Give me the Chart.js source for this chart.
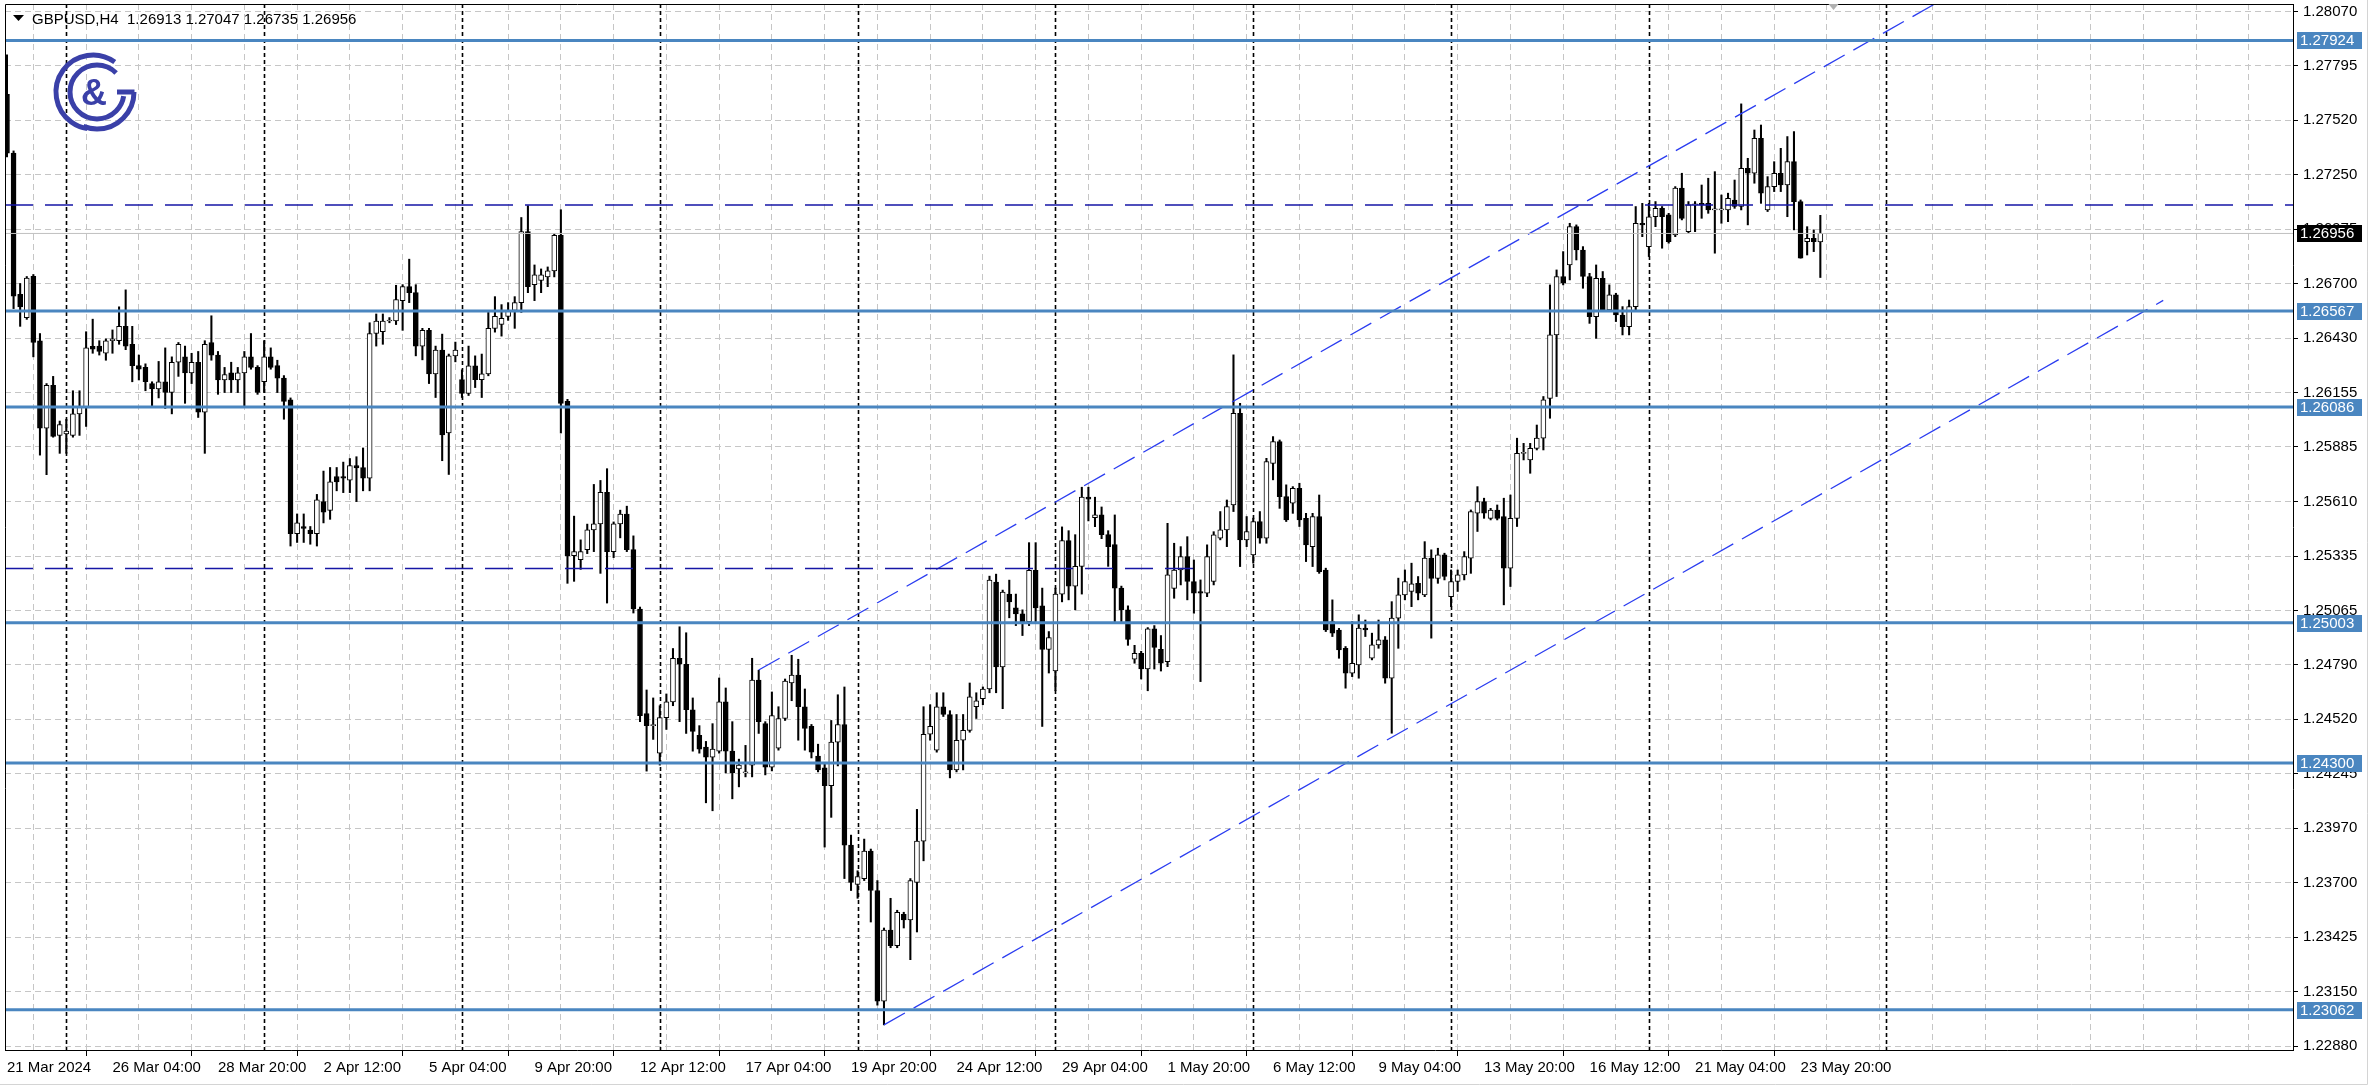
<!DOCTYPE html>
<html>
<head>
<meta charset="utf-8">
<script src="https://cdn.jsdelivr.net/npm/chart.js@4.4.1/dist/chart.umd.min.js"></script>
<style>
  html, body { margin: 0; padding: 0; background: #fff; overflow: hidden; }
  #wrap { width: 2372px; height: 1089px; }
</style>
</head>
<body>
<div id="wrap"><canvas id="chart" width="2372" height="1089"></canvas></div>
<script>
// GBPUSD H4 candles, 21 Mar 2024 12:00 .. 24 May 2024 08:00
const symbol = 'GBPUSD,H4';

// x axis labels, one every 16 bars starting at bar 0
const xLabels = ['21 Mar 2024', '26 Mar 04:00', '28 Mar 20:00', '2 Apr 12:00', '5 Apr 04:00', '9 Apr 20:00',
  '12 Apr 12:00', '17 Apr 04:00', '19 Apr 20:00', '24 Apr 12:00', '29 Apr 04:00', '1 May 20:00',
  '6 May 12:00', '9 May 04:00', '13 May 20:00', '16 May 12:00', '21 May 04:00', '23 May 20:00'];

// price scale as the terminal prints it
const yTickValues = [1.22880, 1.23153, 1.23426, 1.23699, 1.23973, 1.24246, 1.24519, 1.24792, 1.25065, 1.25338,
  1.25612, 1.25885, 1.26158, 1.26431, 1.26704, 1.26977, 1.27251, 1.27524, 1.27797, 1.28070];
const yTickLabels = ['1.22880', '1.23150', '1.23425', '1.23700', '1.23970', '1.24245', '1.24520', '1.24790', '1.25065', '1.25335',
  '1.25610', '1.25885', '1.26155', '1.26430', '1.26700', '1.26975', '1.27250', '1.27520', '1.27795', '1.28070'];

const openP = [
  1.27654,1.27359,1.26651,1.26534,1.26741,1.26418,1.25979,1.26194,1.25943,1.25950,1.25943,1.26051,1.26087,1.26390,1.26391,1.26355,
  1.26418,1.26418,1.26490,1.26400,1.26293,1.26284,1.26203,1.26176,1.26212,1.26158,1.26310,1.26337,1.26257,1.26310,1.26060,1.26409,
  1.26346,1.26221,1.26257,1.26221,1.26257,1.26337,1.26284,1.26212,1.26337,1.26293,1.26230,1.26122,1.25450,1.25486,1.25468,1.25450,
  1.25611,1.25567,1.25737,1.25737,1.25719,1.25791,1.25782,1.25728,1.26454,1.26463,1.26517,1.26517,1.26619,1.26689,1.26659,1.26391,
  1.26470,1.26252,1.26371,1.25955,1.26342,1.26223,1.26153,1.26292,1.26223,1.26252,1.26480,1.26500,1.26540,1.26570,1.26609,1.26966,
  1.26699,1.26720,1.26738,1.26768,1.26946,1.26114,1.25340,1.25320,1.25370,1.25469,1.25499,1.25657,1.25360,1.25499,1.25548,1.25370,
  1.25072,1.24547,1.24487,1.24349,1.24527,1.24606,1.24825,1.24795,1.24567,1.24438,1.24379,1.24329,1.24359,1.24606,1.24359,1.24270,
  1.24250,1.24289,1.24716,1.24497,1.24279,1.24374,1.24523,1.24701,1.24741,1.24582,1.24483,1.24334,1.24275,1.24186,1.24404,1.24493,
  1.23888,1.23690,1.23720,1.23858,1.23660,1.23105,1.23462,1.23383,1.23541,1.23512,1.23700,1.23908,1.24444,1.24364,1.24582,1.24543,
  1.24265,1.24414,1.24463,1.24582,1.24622,1.24671,1.25207,1.24781,1.25147,1.25078,1.25048,1.25009,1.25266,1.25088,1.24870,1.24761,
  1.25147,1.25415,1.25187,1.25286,1.25633,1.25530,1.25544,1.25445,1.25395,1.25177,1.25068,1.24820,1.24850,1.24771,1.24973,1.24870,
  1.24808,1.25176,1.25268,1.25335,1.25210,1.25160,1.25151,1.25210,1.25427,1.25469,1.25594,1.26054,1.25419,1.25344,1.25511,1.25427,
  1.25803,1.25912,1.25636,1.25603,1.25678,1.25527,1.25385,1.25536,1.25268,1.25009,1.24967,1.24875,1.24750,1.24792,1.24976,1.24825,
  1.24892,1.24917,1.24725,1.25026,1.25143,1.25160,1.25201,1.25143,1.25327,1.25226,1.25344,1.25134,1.25210,1.25243,1.25327,1.25553,
  1.25611,1.25527,1.25569,1.25536,1.25277,1.25527,1.25853,1.25820,1.25878,1.25929,1.26129,1.26447,1.26740,1.26798,1.26990,1.26873,
  1.26740,1.26539,1.26731,1.26572,1.26648,1.26547,1.26489,1.26589,1.27007,1.26890,1.27040,1.27082,1.27049,1.26949,1.27183,1.26965,
  1.27099,1.27107,1.27107,1.27074,1.27074,1.27074,1.27124,1.27091,1.27283,1.27258,1.27433,1.27074,1.27191,1.27258,1.27199,1.27316,
  1.27116,1.26915,1.26932,1.26913
];
const highP = [
  1.27852,1.27370,1.26705,1.26740,1.26750,1.26454,1.26203,1.26239,1.26015,1.26024,1.26167,1.26167,1.26463,1.26526,1.26418,1.26427,
  1.26472,1.26588,1.26673,1.26490,1.26346,1.26302,1.26212,1.26314,1.26382,1.26337,1.26409,1.26391,1.26355,1.26364,1.26418,1.26543,
  1.26364,1.26284,1.26310,1.26284,1.26364,1.26454,1.26293,1.26418,1.26382,1.26320,1.26243,1.26131,1.25549,1.25549,1.25486,1.25647,
  1.25764,1.25782,1.25782,1.25809,1.25827,1.25836,1.25880,1.26508,1.26552,1.26552,1.26534,1.26696,1.26699,1.26827,1.26699,1.26480,
  1.26480,1.26391,1.26451,1.26351,1.26411,1.26272,1.26391,1.26342,1.26351,1.26560,1.26639,1.26599,1.26609,1.26639,1.27036,1.27095,
  1.26798,1.26778,1.26788,1.26956,1.27075,1.26124,1.25538,1.25419,1.25498,1.25697,1.25717,1.25776,1.25509,1.25568,1.25588,1.25439,
  1.25082,1.24666,1.24626,1.24587,1.24646,1.24874,1.24983,1.24953,1.24626,1.24487,1.24408,1.24497,1.24726,1.24676,1.24507,1.24319,
  1.24388,1.24825,1.24765,1.24507,1.24656,1.24582,1.24721,1.24840,1.24820,1.24671,1.24493,1.24394,1.24295,1.24513,1.24642,1.24681,
  1.23938,1.23759,1.23918,1.23868,1.23710,1.23472,1.23621,1.23561,1.23551,1.23720,1.24067,1.24582,1.24592,1.24652,1.24652,1.24562,
  1.24543,1.24543,1.24701,1.24652,1.24681,1.25237,1.25247,1.25167,1.25217,1.25147,1.25068,1.25405,1.25405,1.25177,1.24959,1.25177,
  1.25484,1.25465,1.25445,1.25683,1.25683,1.25633,1.25584,1.25465,1.25544,1.25187,1.25088,1.24890,1.24860,1.24979,1.24989,1.24939,
  1.25502,1.25402,1.25385,1.25435,1.25318,1.25218,1.25394,1.25460,1.25561,1.25619,1.26347,1.26104,1.25536,1.25528,1.25561,1.25828,
  1.25937,1.25920,1.25695,1.25686,1.25703,1.25552,1.25552,1.25644,1.25277,1.25118,1.24975,1.24884,1.25009,1.25043,1.25017,1.24951,
  1.25017,1.24934,1.25109,1.25227,1.25268,1.25302,1.25235,1.25410,1.25369,1.25377,1.25352,1.25268,1.25268,1.25360,1.25569,1.25686,
  1.25628,1.25577,1.25594,1.25628,1.25644,1.25929,1.25903,1.25903,1.25995,1.26138,1.26698,1.26773,1.26865,1.27007,1.26999,1.26890,
  1.26756,1.26798,1.26765,1.26698,1.26656,1.26589,1.26622,1.27091,1.27107,1.27107,1.27116,1.27091,1.27057,1.27191,1.27258,1.27116,
  1.27116,1.27199,1.27233,1.27266,1.27149,1.27158,1.27224,1.27606,1.27333,1.27475,1.27500,1.27241,1.27316,1.27383,1.27442,1.27467,
  1.27124,1.26990,1.26974,1.27047
];
const lowP = [
  1.27340,1.26579,1.26490,1.26525,1.26337,1.25844,1.25746,1.25934,1.25853,1.25853,1.25934,1.25943,1.25988,1.26355,1.26346,1.26320,
  1.26355,1.26400,1.26373,1.26212,1.26221,1.26167,1.26087,1.26131,1.26078,1.26051,1.26239,1.26104,1.26203,1.26033,1.25853,1.26320,
  1.26149,1.26158,1.26158,1.26158,1.26087,1.26275,1.26149,1.26158,1.26275,1.26158,1.26024,1.25388,1.25406,1.25406,1.25397,1.25388,
  1.25504,1.25522,1.25665,1.25656,1.25656,1.25611,1.25665,1.25665,1.26391,1.26400,1.26508,1.26499,1.26470,1.26609,1.26342,1.26322,
  1.26203,1.26133,1.25816,1.25747,1.26312,1.26133,1.26143,1.26183,1.26133,1.26242,1.26461,1.26441,1.26520,1.26480,1.26560,1.26659,
  1.26619,1.26659,1.26689,1.26738,1.25955,1.25201,1.25211,1.25271,1.25350,1.25360,1.25251,1.25102,1.25330,1.25429,1.25360,1.25052,
  1.24507,1.24259,1.24418,1.24289,1.24468,1.24587,1.24507,1.24448,1.24359,1.24349,1.24100,1.24060,1.24349,1.24250,1.24120,1.24180,
  1.24230,1.24230,1.24448,1.24240,1.24260,1.24364,1.24513,1.24612,1.24414,1.24364,1.24325,1.24255,1.23878,1.24027,1.24285,1.23720,
  1.23660,1.23621,1.23710,1.23502,1.23085,1.22986,1.23373,1.23373,1.23472,1.23313,1.23452,1.23809,1.24414,1.24354,1.24533,1.24225,
  1.24255,1.24265,1.24454,1.24523,1.24592,1.24652,1.24652,1.24572,1.25028,1.24989,1.24939,1.24989,1.25009,1.24483,1.24751,1.24662,
  1.25108,1.25118,1.25068,1.25147,1.25514,1.25485,1.25425,1.25286,1.25009,1.25009,1.24890,1.24800,1.24721,1.24662,1.24771,1.24761,
  1.24783,1.25126,1.25193,1.25118,1.25051,1.24708,1.25134,1.25193,1.25419,1.25385,1.25561,1.25285,1.25385,1.25302,1.25402,1.25402,
  1.25720,1.25577,1.25511,1.25552,1.25486,1.25310,1.25285,1.25251,1.24959,1.24934,1.24825,1.24675,1.24733,1.24725,1.24934,1.24817,
  1.24875,1.24700,1.24449,1.24875,1.25118,1.25084,1.25118,1.25134,1.24926,1.25201,1.25218,1.25084,1.25160,1.25218,1.25251,1.25461,
  1.25527,1.25519,1.25519,1.25093,1.25185,1.25486,1.25820,1.25753,1.25870,1.25870,1.26029,1.26138,1.26698,1.26723,1.26823,1.26681,
  1.26505,1.26430,1.26564,1.26564,1.26514,1.26447,1.26447,1.26572,1.26940,1.26840,1.26990,1.26882,1.26907,1.26940,1.27024,1.26957,
  1.26965,1.27032,1.27057,1.26857,1.27007,1.27015,1.27082,1.27074,1.26999,1.27208,1.27107,1.27066,1.27166,1.27166,1.27040,1.26974,
  1.26832,1.26848,1.26865,1.26735
];
const closeP = [
  1.27359,1.26642,1.26588,1.26732,1.26409,1.25979,1.26194,1.25938,1.25997,1.25965,1.26051,1.26087,1.26382,1.26375,1.26364,1.26418,
  1.26427,1.26490,1.26391,1.26293,1.26275,1.26212,1.26176,1.26212,1.26158,1.26310,1.26400,1.26257,1.26310,1.26060,1.26400,1.26346,
  1.26221,1.26248,1.26221,1.26257,1.26337,1.26284,1.26158,1.26337,1.26284,1.26230,1.26113,1.25450,1.25504,1.25477,1.25450,1.25620,
  1.25558,1.25710,1.25710,1.25728,1.25791,1.25780,1.25728,1.26454,1.26517,1.26517,1.26517,1.26624,1.26689,1.26659,1.26391,1.26470,
  1.26252,1.26371,1.25945,1.26342,1.26371,1.26153,1.26292,1.26223,1.26252,1.26480,1.26540,1.26530,1.26570,1.26609,1.26966,1.26689,
  1.26748,1.26748,1.26768,1.26946,1.26104,1.25340,1.25360,1.25360,1.25469,1.25499,1.25657,1.25360,1.25499,1.25548,1.25370,1.25072,
  1.24537,1.24487,1.24487,1.24527,1.24606,1.24825,1.24795,1.24567,1.24458,1.24369,1.24329,1.24369,1.24606,1.24359,1.24250,1.24289,
  1.24250,1.24716,1.24507,1.24279,1.24537,1.24523,1.24711,1.24741,1.24582,1.24473,1.24354,1.24265,1.24186,1.24404,1.24493,1.23888,
  1.23700,1.23730,1.23858,1.23660,1.23105,1.23462,1.23383,1.23551,1.23512,1.23710,1.23908,1.24444,1.24483,1.24582,1.24543,1.24265,
  1.24414,1.24463,1.24632,1.24612,1.24671,1.25217,1.24781,1.25157,1.25108,1.25048,1.25009,1.25266,1.25078,1.24870,1.24929,1.25147,
  1.25415,1.25187,1.25286,1.25633,1.25623,1.25544,1.25445,1.25385,1.25177,1.25068,1.24919,1.24850,1.24771,1.24973,1.24880,1.24800,
  1.25243,1.25268,1.25335,1.25210,1.25151,1.25151,1.25335,1.25444,1.25469,1.25586,1.26054,1.25419,1.25461,1.25511,1.25427,1.25812,
  1.25912,1.25636,1.25519,1.25678,1.25519,1.25394,1.25536,1.25260,1.24967,1.24951,1.24867,1.24750,1.24800,1.24976,1.24967,1.24892,
  1.24917,1.24725,1.25026,1.25143,1.25210,1.25198,1.25151,1.25327,1.25226,1.25344,1.25235,1.25210,1.25243,1.25335,1.25561,1.25611,
  1.25553,1.25569,1.25527,1.25277,1.25527,1.25853,1.25853,1.25878,1.25929,1.26121,1.26447,1.26740,1.26706,1.26990,1.26873,1.26740,
  1.26539,1.26731,1.26572,1.26648,1.26547,1.26489,1.26589,1.27007,1.26999,1.27040,1.27082,1.27040,1.26915,1.27183,1.27032,1.27099,
  1.27099,1.27099,1.27074,1.27074,1.27074,1.27132,1.27091,1.27283,1.27258,1.27433,1.27158,1.27191,1.27258,1.27199,1.27316,1.27116,
  1.26832,1.26932,1.26915,1.26956
];

// drawn objects
const solidLevels = [1.27924, 1.26567, 1.26086, 1.25003, 1.24300, 1.23062];
const dashedLevels = [1.27099, 1.25275];
const dashedLevelEnds = [null, 180];          // bar where the dashed line stops (null = full width)
const channelUpper = [[114, 1.24766], [308, 1.28400]];
const channelLower = [[133, 1.22986], [327, 1.26620]];
const weekSeparators = [9, 39, 69, 99, 129, 159, 189, 219, 249, 285];
const shiftMarkerBar = 277;

const X_MIN = -0.30, X_MAX = 346.68;
const Y_MIN = 1.22860, Y_MAX = 1.28107;
const FONT = "'Liberation Sans', Arial, sans-serif";
const LEVEL_BLUE = '#4a86c0';
const CHANNEL_BLUE = '#2a3cf0';
const NAVY = '#1616a6';

const idx = openP.map((_, i) => i);
const lastBid = closeP[closeP.length - 1];

function hLine(level, x0, x1, color, width, dash) {
  return {
    type: 'line', order: 0,
    data: [{ x: x0, y: level }, { x: x1, y: level }],
    borderColor: color, borderWidth: width, borderDash: dash,
    pointRadius: 0, fill: false, tension: 0
  };
}

const datasets = [
  {
    type: 'bar', label: 'body', order: 1,
    data: idx.map(i => ({ x: i, y: [openP[i], closeP[i]] })),
    backgroundColor: idx.map(i => closeP[i] >= openP[i] ? '#ffffff' : '#000000'),
    borderColor: '#000000', borderWidth: 1, borderSkipped: false,
    barThickness: 5, minBarLength: 1, grouped: false
  },
  {
    type: 'bar', label: 'wick', order: 2,
    data: idx.map(i => ({ x: i, y: [lowP[i], highP[i]] })),
    backgroundColor: '#000000', borderWidth: 0,
    barThickness: 1.4, grouped: false
  },
  hLine(lastBid, X_MIN, X_MAX, '#c0c0c0', 1, []),
  ...dashedLevels.map((v, k) => hLine(v, X_MIN, dashedLevelEnds[k] == null ? X_MAX : dashedLevelEnds[k], NAVY, 1.5, [28, 12])),
  ...solidLevels.map(v => hLine(v, X_MIN, X_MAX, LEVEL_BLUE, 3, [])),
  ...[channelUpper, channelLower].map(ch => ({
    type: 'line', order: 0,
    data: ch.map(p => ({ x: p[0], y: p[1] })),
    borderColor: CHANNEL_BLUE, borderWidth: 1.3, borderDash: [24, 10],
    pointRadius: 0, fill: false, tension: 0
  }))
];

// period separators under the candles
const separators = {
  id: 'separators',
  beforeDatasetsDraw(chart) {
    const { ctx, chartArea, scales } = chart;
    ctx.save();
    ctx.strokeStyle = '#000';
    ctx.lineWidth = 1.6;
    ctx.setLineDash([4, 3]);
    weekSeparators.forEach(b => {
      const x = Math.round(scales.x.getPixelForValue(b)) + 0.5;
      ctx.beginPath();
      ctx.moveTo(x, chartArea.top);
      ctx.lineTo(x, chartArea.bottom);
      ctx.stroke();
    });
    ctx.restore();
  }
};

// frame, price tags, header and logo
const decorations = {
  id: 'decorations',
  afterDraw(chart) {
    const { ctx, chartArea } = chart;
    const ys = chart.scales.y;
    ctx.save();
    ctx.strokeStyle = '#000';
    ctx.lineWidth = 1;
    ctx.beginPath();
    ctx.moveTo(chartArea.left + 0.5, chartArea.bottom);
    ctx.lineTo(chartArea.left + 0.5, chartArea.top + 0.5);
    ctx.lineTo(chartArea.right, chartArea.top + 0.5);
    ctx.stroke();

    // outer window edge
    ctx.strokeStyle = '#d4d4d4';
    ctx.beginPath();
    ctx.moveTo(2367.5, 0); ctx.lineTo(2367.5, 1084.5); ctx.lineTo(0, 1084.5);
    ctx.stroke();

    // chart shift marker on the top edge
    const sx = chart.scales.x.getPixelForValue(shiftMarkerBar);
    ctx.fillStyle = '#b0b0b0';
    ctx.beginPath();
    ctx.moveTo(sx - 5, chartArea.top); ctx.lineTo(sx + 5, chartArea.top); ctx.lineTo(sx, chartArea.top + 6);
    ctx.closePath(); ctx.fill();

    // price tags on the scale
    ctx.font = '15px ' + FONT;
    ctx.textBaseline = 'middle';
    ctx.textAlign = 'left';
    const tag = (v, bg) => {
      const y = Math.round(ys.getPixelForValue(v));
      ctx.fillStyle = bg;
      ctx.fillRect(2297, y - 8, 65, 17);
      ctx.fillStyle = '#fff';
      ctx.fillText(v.toFixed(5), 2300, y + 1);
    };
    solidLevels.forEach(v => tag(v, LEVEL_BLUE));
    tag(lastBid, '#000');

    // header
    ctx.fillStyle = '#000';
    ctx.beginPath();
    ctx.moveTo(13, 15); ctx.lineTo(24, 15); ctx.lineTo(18.5, 21);
    ctx.closePath(); ctx.fill();
    const n = openP.length - 1;
    ctx.fillText(symbol + '  ' + [openP[n], highP[n], lowP[n], closeP[n]].map(v => v.toFixed(5)).join(' '), 32, 20);

    // logo
    ctx.strokeStyle = '#3a40a8';
    ctx.fillStyle = '#3a40a8';
    ctx.lineWidth = 5;
    ctx.setLineDash([]);
    ctx.beginPath();
    ctx.arc(93, 92, 37, -Math.PI * 0.30, Math.PI * 0.55, true);
    ctx.stroke();
    ctx.beginPath();
    ctx.arc(97, 92, 27, -Math.PI * 0.25, Math.PI * 0.05, true);
    ctx.stroke();
    ctx.beginPath();
    ctx.arc(97, 92, 37, 0, Math.PI * 0.62, false);
    ctx.stroke();
    ctx.beginPath();
    ctx.moveTo(117, 92); ctx.lineTo(134.5, 92);
    ctx.stroke();
    ctx.font = 'bold 36px ' + FONT;
    ctx.textAlign = 'center';
    ctx.fillText('&', 94, 95);
    ctx.restore();
  }
};

new Chart(document.getElementById('chart'), {
  type: 'bar',
  data: { datasets },
  options: {
    responsive: false,
    animation: false,
    devicePixelRatio: 1,
    events: [],
    layout: { padding: { top: 4, left: 5, right: 0, bottom: 0 } },
    plugins: { legend: { display: false }, tooltip: { enabled: false } },
    scales: {
      x: {
        type: 'linear', position: 'bottom', min: X_MIN, max: X_MAX, offset: false,
        afterBuildTicks: s => {
          const t = [];
          for (let v = 0; v <= X_MAX; v += 8) t.push({ value: v });
          s.ticks = t;
        },
        afterFit: s => { s.height = 39; s.paddingLeft = 0; s.paddingRight = 0; },
        ticks: {
          autoSkip: false, maxRotation: 0, minRotation: 0, align: 'start', padding: 3,
          color: '#000', font: { family: FONT, size: 15 },
          callback: v => (v % 16 === 0 && xLabels[v / 16]) ? xLabels[v / 16] : ''
        },
        grid: {
          color: '#c6c6c6', lineWidth: 1, tickLength: 6, tickBorderDash: [],
          tickColor: c => (c.tick && c.tick.value % 16 === 0 && xLabels[c.tick.value / 16]) ? '#000' : 'rgba(0,0,0,0)'
        },
        border: { color: '#000', width: 1, dash: [6, 4] }
      },
      y: {
        type: 'linear', position: 'right', min: Y_MIN, max: Y_MAX,
        afterBuildTicks: s => { s.ticks = yTickValues.map(v => ({ value: v })); },
        afterFit: s => { s.width = 79; s.paddingTop = 0; s.paddingBottom = 0; },
        ticks: {
          padding: 5, color: '#000', font: { family: FONT, size: 15 },
          callback: (v, i) => yTickLabels[i]
        },
        grid: { color: '#c6c6c6', lineWidth: 1, tickLength: 5, tickColor: '#000', tickBorderDash: [] },
        border: { color: '#000', width: 1, dash: [6, 4] }
      }
    }
  },
  plugins: [separators, decorations]
});
</script>
</body>
</html>
